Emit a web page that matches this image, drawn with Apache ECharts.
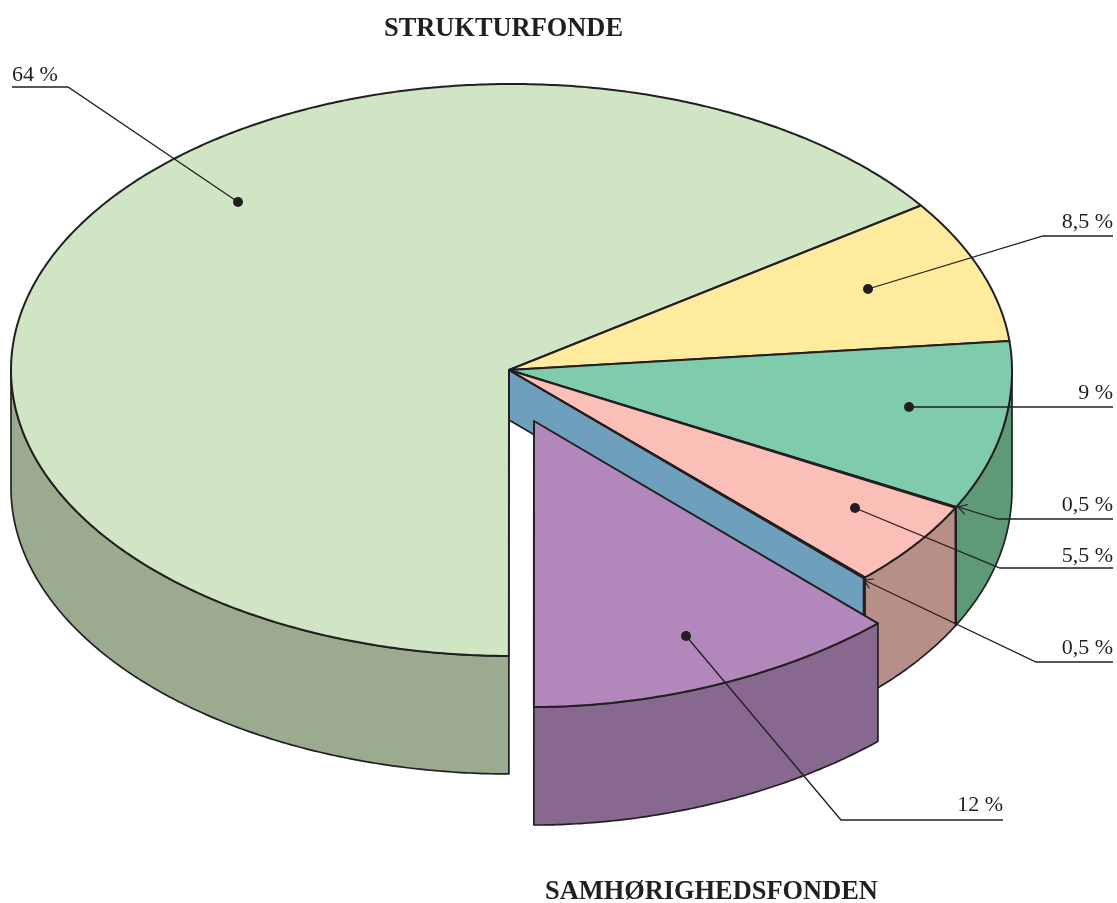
<!DOCTYPE html>
<html>
<head>
<meta charset="utf-8">
<title>Strukturfonde og Samhørighedsfonden</title>
<script src="https://cdn.jsdelivr.net/npm/echarts@6/dist/echarts.min.js"></script>
<style>
  html, body { margin: 0; padding: 0; background: #fff; }
  #chart { width: 1117px; height: 903px; }
</style>
</head>
<body>
<div id="chart"></div>
<script>
// Data: printed shares, and the angle each slice really occupies in the drawing.
// The printed pie is not strictly proportional, so sweeps are read off the picture.
const sliceNames = ['Grøn', 'Gul', 'Turkis', 'Smal 1', 'Rosa', 'Smal 2', 'Lilla'];
const shares = [64, 8.5, 9, 0.5, 5.5, 0.5, 12];
const sweepDegrees = [234.6, 29.3, 33.6, 0.2, 17.8, 0.2, 44.3];
const firstSliceStart = -90.3; // degrees, drawn clockwise

// Styles
const topColors = ['#cfe5c3', '#feeb9e', '#7fccad', '#231f20', '#fbbfb8', '#231f20', '#b288bc'];
const wallColors = ['#9aab90', '#feeb9e', '#5e9a77', '#231f20', '#b78f88', '#231f20', '#87688e'];
const cutColor = '#6e9fbc';
const inkColor = '#231f20';
const EXPLODED = 6;

// Layout of the pie on the page
const APEX = { x: 509, y: 370 };
const ELLIPSE = { x: 511.5, y: 370, rx: 500.5, ry: 286 };
const DEPTH = 118;
const CUT_DEPTH = 50;
const EXPLODE = { x: 25, y: 51 };
// the printed outline is not a true ellipse in the lower right quadrant
const BULGE_MAIN = 0.965;
const BULGE_EXPLODED = 1.05;

// Leader lines: path runs from the tip in the slice to the end under the label
const leaders = [
  { slice: 0, tip: 'dot', path: [[238, 202], [68, 87], [12, 87]], labelX: 12, align: 'left', labelY: 81 },
  { slice: 1, tip: 'dot', path: [[868, 289], [1043, 236], [1113, 236]], labelX: 1113, align: 'right', labelY: 228 },
  { slice: 2, tip: 'dot', path: [[909, 407], [1113, 407]], labelX: 1113, align: 'right', labelY: 399 },
  { slice: 3, tip: 'arrow', path: [[958, 507], [998, 519], [1113, 519]], labelX: 1113, align: 'right', labelY: 511 },
  { slice: 4, tip: 'dot', path: [[855, 508], [1000, 568], [1113, 568]], labelX: 1113, align: 'right', labelY: 562 },
  { slice: 5, tip: 'arrow', path: [[864, 580], [1036, 662], [1113, 662]], labelX: 1113, align: 'right', labelY: 654 },
  { slice: 6, tip: 'dot', path: [[686, 636], [841, 820], [1003, 820]], labelX: 1003, align: 'right', labelY: 811 }
];

// Slice start/end angles, normalised so the start lies within (-180, 180]
const sliceAngles = [];
(function () {
  let a = firstSliceStart;
  sweepDegrees.forEach(function (sweep) {
    let start = a;
    while (start <= -180) start += 360;
    sliceAngles.push({ start: start, end: start - sweep });
    a -= sweep;
  });
})();

function arcPoints(from, to, dx, dy, bulge) {
  // from > to, sampled every half degree
  const pts = [];
  const steps = Math.max(1, Math.ceil((from - to) * 2));
  for (let i = 0; i <= steps; i++) {
    const t = (from + (to - from) * i / steps) * Math.PI / 180;
    let c = Math.cos(t);
    let s = Math.sin(t);
    if (c > 0 && s < 0) {
      c = Math.pow(c, bulge);
      s = -Math.pow(-s, bulge);
    }
    pts.push([ELLIPSE.x + ELLIPSE.rx * c + dx, ELLIPSE.y - ELLIPSE.ry * s + dy]);
  }
  return pts;
}

function offsetOf(i) {
  return i === EXPLODED ? EXPLODE : { x: 0, y: 0 };
}

function bulgeOf(i) {
  return i === EXPLODED ? BULGE_EXPLODED : BULGE_MAIN;
}

function wallItem(i) {
  const a = sliceAngles[i];
  const from = Math.min(a.start, 0);
  const to = Math.max(a.end, -180);
  if (from <= to) return { type: 'group', children: [] };
  const off = offsetOf(i);
  const b = bulgeOf(i);
  const pts = arcPoints(from, to, off.x, off.y, b).concat(arcPoints(from, to, off.x, off.y + DEPTH, b).reverse());
  return {
    type: 'polygon',
    shape: { points: pts },
    style: { fill: wallColors[i], stroke: inkColor, lineWidth: 1.7, lineJoin: 'round' }
  };
}

function topItem(i) {
  const a = sliceAngles[i];
  const off = offsetOf(i);
  const pts = [[APEX.x + off.x, APEX.y + off.y]].concat(arcPoints(a.start, a.end, off.x, off.y, bulgeOf(i)));
  return {
    type: 'polygon',
    shape: { points: pts },
    style: { fill: topColors[i], stroke: inkColor, lineWidth: 2, lineJoin: 'round' }
  };
}

function cutItem() {
  // wall left open where the exploded slice was pulled out
  const edge = arcPoints(sliceAngles[5].end, sliceAngles[5].end, 0, 0, BULGE_MAIN)[0];
  return {
    type: 'polygon',
    shape: {
      points: [[APEX.x, APEX.y], edge, [edge[0], edge[1] + CUT_DEPTH], [APEX.x, APEX.y + CUT_DEPTH]]
    },
    style: { fill: cutColor, stroke: inkColor, lineWidth: 1.7, lineJoin: 'round' }
  };
}

function leaderItem(l) {
  const children = [{
    type: 'polyline',
    shape: { points: l.path },
    style: { fill: null, stroke: inkColor, lineWidth: 1.3 }
  }];
  const tip = l.path[0];
  if (l.tip === 'dot') {
    children.push({
      type: 'circle',
      shape: { cx: tip[0], cy: tip[1], r: 5 },
      style: { fill: inkColor }
    });
  } else {
    const ang = Math.atan2(l.path[1][1] - tip[1], l.path[1][0] - tip[0]);
    const head = [ang - 0.55, ang + 0.55].map(function (h) {
      return [tip[0] + 10 * Math.cos(h), tip[1] + 10 * Math.sin(h)];
    });
    children.push({
      type: 'polyline',
      shape: { points: [head[0], tip, head[1]] },
      style: { fill: null, stroke: inkColor, lineWidth: 1.1 }
    });
  }
  children.push({
    type: 'text',
    style: {
      x: l.labelX,
      y: l.labelY + 5, // labelY is the baseline, the text box sits on its descent
      text: String(shares[l.slice]).replace('.', ',') + ' %',
      textAlign: l.align,
      textVerticalAlign: 'bottom',
      font: '22px "Liberation Serif", serif',
      fill: inkColor
    }
  });
  return { type: 'group', children: children };
}

// Painter's order: back walls, tops, then the pulled-out slice, then annotations
const drawOrder = [];
[0, 2, 3, 4, 5].forEach(function (i) { drawOrder.push({ kind: 'wall', i: i }); });
drawOrder.push({ kind: 'cut', i: 5 });
[0, 1, 2, 3, 4, 5].forEach(function (i) { drawOrder.push({ kind: 'top', i: i }); });
drawOrder.push({ kind: 'wall', i: EXPLODED });
drawOrder.push({ kind: 'top', i: EXPLODED });
leaders.forEach(function (l, i) { drawOrder.push({ kind: 'leader', i: i }); });

function renderItem(params) {
  const d = drawOrder[params.dataIndex];
  if (d.kind === 'wall') return wallItem(d.i);
  if (d.kind === 'top') return topItem(d.i);
  if (d.kind === 'cut') return cutItem();
  return leaderItem(leaders[d.i]);
}

const chart = echarts.init(document.getElementById('chart'), null, { renderer: 'canvas' });
chart.setOption({
  animation: false,
  backgroundColor: '#fff',
  title: [
    {
      text: 'STRUKTURFONDE',
      left: 384,
      top: 16,
      padding: 0,
      textStyle: { fontFamily: '"Liberation Serif", serif', fontSize: 26.4, fontWeight: 'bold', color: inkColor }
    },
    {
      text: 'SAMHØRIGHEDSFONDEN',
      left: 545,
      top: 879,
      padding: 0,
      textStyle: { fontFamily: '"Liberation Serif", serif', fontSize: 26.4, fontWeight: 'bold', color: inkColor }
    }
  ],
  series: [{
    type: 'custom',
    coordinateSystem: 'none',
    silent: true,
    clip: false,
    renderItem: renderItem,
    data: drawOrder.map(function (d, i) { return [i]; })
  }]
});
window.addEventListener('resize', function () { chart.resize(); });
</script>
</body>
</html>
